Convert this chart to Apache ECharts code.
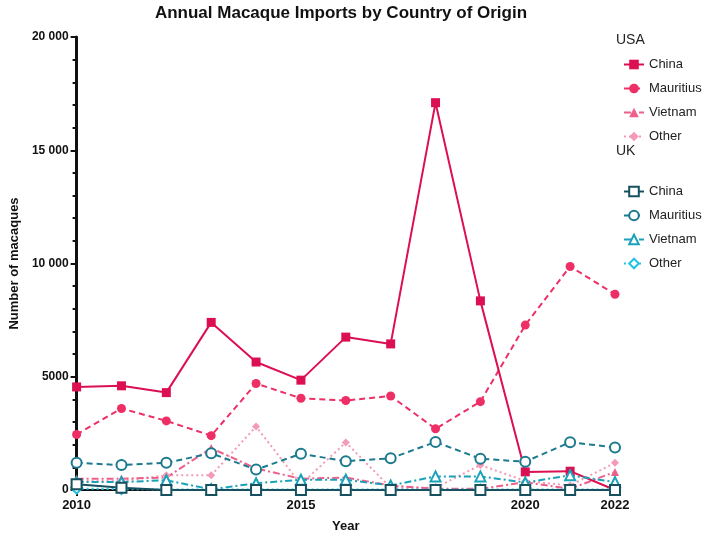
<!DOCTYPE html>
<html>
<head>
<meta charset="utf-8">
<title>Annual Macaque Imports</title>
<script src="https://fastly.jsdelivr.net/npm/echarts@6.0.0/dist/echarts.min.js"></script>
<style>
  html, body { margin: 0; padding: 0; background: #fff; }
  #chart-container { width: 709px; height: 538px; }
</style>
</head>
<body>
<div id="chart-container"></div>
<script>
// years on the x axis, and which of them get a tick + label
var years = ['2010', '2011', '2012', '2013', '2014', '2015', '2016', '2017', '2018', '2019', '2020', '2021', '2022'];
var labelYears = ['2010', '2015', '2020', '2022'];

// USA imports
var usaChina     = [4550, 4600, 4300, 7400, 5650, 4850, 6750, 6450, 17100, 8350, 800, 830, 0];
var usaMauritius = [2450, 3600, 3050, 2400, 4700, 4050, 3950, 4150, 2700, 3900, 7280, 9870, 8640];
var usaVietnam   = [500, 500, 550, 1850, 950, 500, 550, 200, 50, 50, 350, 50, 800];
var usaOther     = [400, 400, 650, 650, 2800, 250, 2100, 100, 100, 1100, 400, 200, 1200];

// UK imports
var ukChina     = [250, 100, 0, 0, 0, 0, 0, 0, 0, 0, 0, 0, 0];
var ukMauritius = [1200, 1100, 1200, 1620, 900, 1600, 1270, 1400, 2120, 1380, 1250, 2110, 1880];
var ukVietnam   = [350, 350, 430, 30, 300, 450, 450, 200, 600, 600, 330, 650, 350];
var ukOther     = [60, 40, 20, 20, 20, 20, 20, 20, 20, 20, 20, 20, 20];

var FONT = 'Liberation Sans, Arial, sans-serif';

function lineSeries(name, data, color, type, symbol, size, hollow) {
    return {
        name: name,
        type: 'line',
        data: data,
        symbol: symbol,
        symbolSize: size,
        showSymbol: true,
        lineStyle: { color: color, width: 2, type: type },
        itemStyle: {
            color: hollow ? '#ffffff' : color,
            borderColor: color,
            borderWidth: hollow ? 2 : 0
        },
        emphasis: { disabled: true }
    };
}

var dashDot = [7, 3, 2, 3];

var myChart = echarts.init(document.getElementById('chart-container'));

var option = {
    animation: false,
    textStyle: { fontFamily: FONT },
    graphic: [
        { type: 'text', x: 341, y: 13, style: { text: 'Annual Macaque Imports by Country of Origin', fill: '#111', font: 'bold 17px ' + FONT, align: 'center', verticalAlign: 'middle' } },
        { type: 'text', left: 616, top: 33, style: { text: 'USA', fill: '#222', font: '14px ' + FONT } },
        { type: 'text', left: 616, top: 144, style: { text: 'UK', fill: '#222', font: '14px ' + FONT } }
    ],
    legend: [
        {
            orient: 'vertical',
            left: 618, top: 53,
            itemWidth: 20, itemHeight: 12, itemGap: 11,
            data: ['USA China', 'USA Mauritius', 'USA Vietnam', 'USA Other'],
            formatter: function (n) { return n.split(' ')[1]; },
            textStyle: { color: '#222', fontSize: 13, fontFamily: FONT },
            selectedMode: false
        },
        {
            orient: 'vertical',
            left: 618, top: 180,
            itemWidth: 20, itemHeight: 12, itemGap: 11,
            data: ['UK China', 'UK Mauritius', 'UK Vietnam', 'UK Other'],
            formatter: function (n) { return n.split(' ')[1]; },
            textStyle: { color: '#222', fontSize: 13, fontFamily: FONT },
            selectedMode: false
        }
    ],
    grid: { left: 65, right: 94, top: 37, bottom: 45 },
    xAxis: {
        type: 'category',
        data: years,
        boundaryGap: false,
        name: 'Year',
        nameLocation: 'middle',
        nameGap: 30,
        nameTextStyle: { color: '#111', fontSize: 13, fontWeight: 'bold' },
        axisLine: { lineStyle: { color: '#111', width: 2 } },
        axisTick: {
            alignWithLabel: true,
            length: 6,
            lineStyle: { color: '#111', width: 2 },
            interval: function (i, v) { return labelYears.indexOf(v) >= 0; }
        },
        axisLabel: {
            color: '#111', fontSize: 13, fontWeight: 'bold', margin: 9,
            interval: function (i, v) { return labelYears.indexOf(v) >= 0; }
        },
        splitLine: { show: false }
    },
    yAxis: {
        type: 'value',
        min: 0, max: 20000, interval: 5000,
        name: 'Number of macaques',
        nameLocation: 'middle',
        nameGap: 46,
        nameTextStyle: { color: '#111', fontSize: 13, fontWeight: 'bold' },
        axisLine: { show: true, lineStyle: { color: '#111', width: 3 } },
        axisTick: { show: true, length: 6, lineStyle: { color: '#111', width: 2 } },
        minorTick: { show: true, splitNumber: 5, length: 4, lineStyle: { color: '#111', width: 2 } },
        axisLabel: {
            color: '#111', fontSize: 12, fontWeight: 'bold', margin: 8,
            formatter: function (val) {
                if (val >= 10000) {
                    return Math.floor(val / 1000) + ' ' + String(val % 1000).padStart(3, '0');
                }
                return val;
            }
        },
        splitLine: { show: false }
    },
    series: [
        lineSeries('USA Other', usaOther, '#F59AB6', [2, 3], 'diamond', 8, false),
        lineSeries('USA Vietnam', usaVietnam, '#EE5F8A', dashDot, 'triangle', 8, false),
        lineSeries('USA Mauritius', usaMauritius, '#EE2F66', [6, 4], 'circle', 9, false),
        lineSeries('USA China', usaChina, '#DC0F52', 'solid', 'rect', 9, false),
        lineSeries('UK Other', ukOther, '#22C3E3', [2, 3], 'diamond', 10, true),
        lineSeries('UK Vietnam', ukVietnam, '#1BA2BA', dashDot, 'triangle', 10, true),
        lineSeries('UK Mauritius', ukMauritius, '#1C7A8E', [6, 4], 'circle', 10, true),
        lineSeries('UK China', ukChina, '#17505E', 'solid', 'rect', 10, true)
    ]
};

myChart.setOption(option);
</script>
</body>
</html>
